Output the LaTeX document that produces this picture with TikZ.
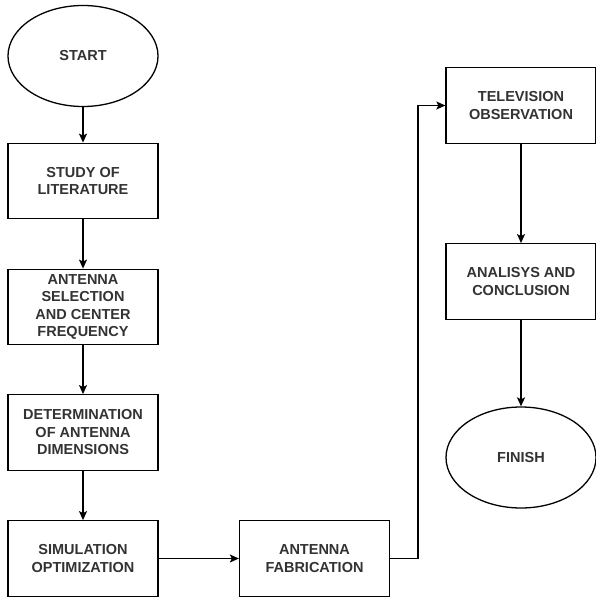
\documentclass[tikz,border=0pt]{standalone}
\usepackage{fontspec}
\setmainfont{Liberation Sans}
\usetikzlibrary{shapes.geometric,arrows.meta}
\definecolor{txt}{HTML}{333333}
\tikzset{
  base/.style={draw=black, line width=1.3pt, fill=white, inner sep=0pt, align=center,
    text=txt, font=\fontsize{14.5}{17.5}\selectfont\bfseries},
  stepbox/.style={base, rectangle, minimum width=150pt, minimum height=75.5pt},
  term/.style={base, ellipse, minimum width=150pt, minimum height=101pt},
  arr/.style={draw=black, line width=1.3pt, -{Stealth[length=9pt,width=8pt,inset=2pt]}}
}
\begin{document}
\begin{tikzpicture}[x=1pt,y=-1pt]
\useasboundingbox (0,0) rectangle (595,599);
\node[term] (start) at (83,56) {START};
\node[stepbox] (b1) at (83,181) {STUDY OF\\LITERATURE};
\node[stepbox] (b2) at (83,307) {ANTENNA\\SELECTION\\AND CENTER\\FREQUENCY};
\node[stepbox] (b3) at (83,432.5) {DETERMINATION\\OF ANTENNA\\DIMENSIONS};
\node[stepbox] (b4) at (83,558.5) {SIMULATION\\OPTIMIZATION};
\node[stepbox] (b5) at (314.5,558.5) {ANTENNA\\FABRICATION};
\node[stepbox] (b6) at (521,105.5) {TELEVISION\\OBSERVATION};
\node[stepbox] (b7) at (521,281.5) {ANALISYS AND\\CONCLUSION};
\node[term] (finish) at (521,457.5) {FINISH};
\coordinate (turn) at (418,558.5);
\draw[arr] (start) -- (b1);
\draw[arr] (b1) -- (b2);
\draw[arr] (b2) -- (b3);
\draw[arr] (b3) -- (b4);
\draw[arr] (b4) -- (b5);
\draw[arr] (b5.east) -- (turn) |- (b6.west);
\draw[arr] (b6) -- (b7);
\draw[arr] (b7) -- (finish);
\end{tikzpicture}
\end{document}
